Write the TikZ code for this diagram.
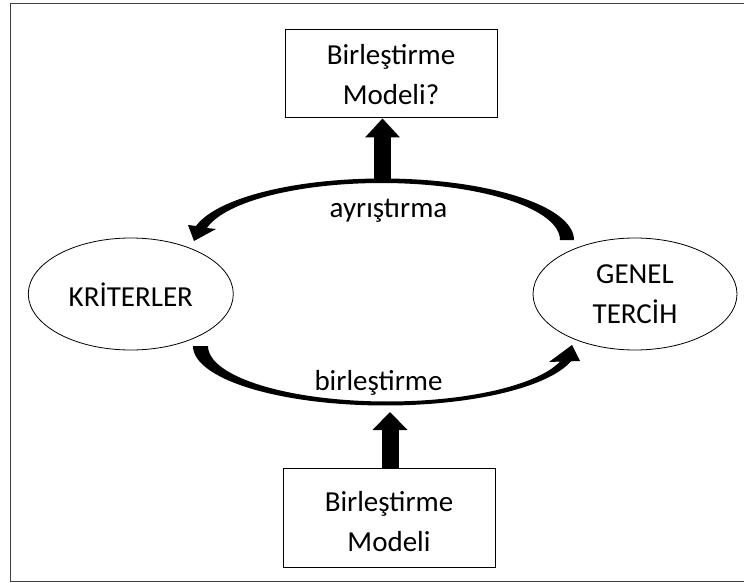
\documentclass[tikz,border=0pt]{standalone}
\usepackage{fontspec}
\setmainfont{Carlito}
\usetikzlibrary{arrows.meta,shapes.geometric}
\begin{document}
\begin{tikzpicture}[x=1pt,y=-1pt,
  txt/.style={font=\fontsize{29}{40}\selectfont, inner sep=0pt, align=center},
  modelbox/.style={draw=black, line width=1pt, minimum width=212pt, inner sep=0pt},
  oval/.style={ellipse, draw=black, line width=0.8pt, minimum width=205pt, minimum height=112pt, inner sep=0pt},
  blockarrow/.style={line width=17pt, -{Triangle[width=35pt,length=19pt,line width=0pt]}},
  curvedarrow/.style={fill=black}
]
\useasboundingbox (0,0) rectangle (744,583);

% outer frame (right side runs off the page)
\draw[line width=1.3pt, black!75] (744,3.5) -- (10.5,3.5) -- (10.5,581.8) -- (744,581.8);

% model boxes
\node[modelbox, minimum height=88.6pt] (topbox) at (391,73.7) {};
\node[txt] (toptext) at (391,74.9) {Birleştirme\\Modeli?};
\node[modelbox, minimum height=99pt] (botbox) at (389,517.5) {};
\node[txt] (bottext) at (389,521.9) {Birleştirme\\Modeli};

% ovals
\node[oval] (krit) at (130.8,294) {};
\node[txt, anchor=base] (krittext) at (130.8,306) {KRİTERLER};
\node[oval, minimum width=204pt] (genel) at (635,294) {};
\node[txt] (geneltext) at (635,294.65) {GENEL\\TERCİH};

% upper curved arrow: from GENEL TERCİH over to KRİTERLER
\fill[curvedarrow] plot[domain=0:-166.84, samples=90] ({382.5+191.5*cos(\x)},{240+61.5*sin(\x)})
  -- (188,225) -- (194,241) -- (216,229)
  -- plot[domain=-167.85:0, samples=90] ({381.5+178.5*cos(\x)},{240+57*sin(\x)}) -- cycle;

% lower curved arrow: from KRİTERLER under to GENEL TERCİH
\fill[curvedarrow] plot[domain=180:14.9, samples=90] ({385.2+192.2*cos(\x)},{346+59.5*sin(\x)})
  -- (580,361) -- (572,345) -- (549,362)
  -- plot[domain=16.3:180, samples=90] ({387.6+179.6*cos(\x)},{346+55.5*sin(\x)}) -- cycle;

% arc labels
\node[txt, anchor=base] (split) at (388.5,217) {ayrıştırma};
\node[txt, anchor=base] (merge) at (378.5,390) {birleştirme};

% block arrows between arcs and boxes
\coordinate (archigh) at (382.5,181);
\draw[blockarrow] (archigh) -- (archigh |- topbox.south);
\coordinate (arclow) at (390,412);
\draw[blockarrow, -{Triangle[width=35pt,length=18pt,line width=0pt]}] (arclow |- botbox.north) -- (arclow);
\end{tikzpicture}
\end{document}
